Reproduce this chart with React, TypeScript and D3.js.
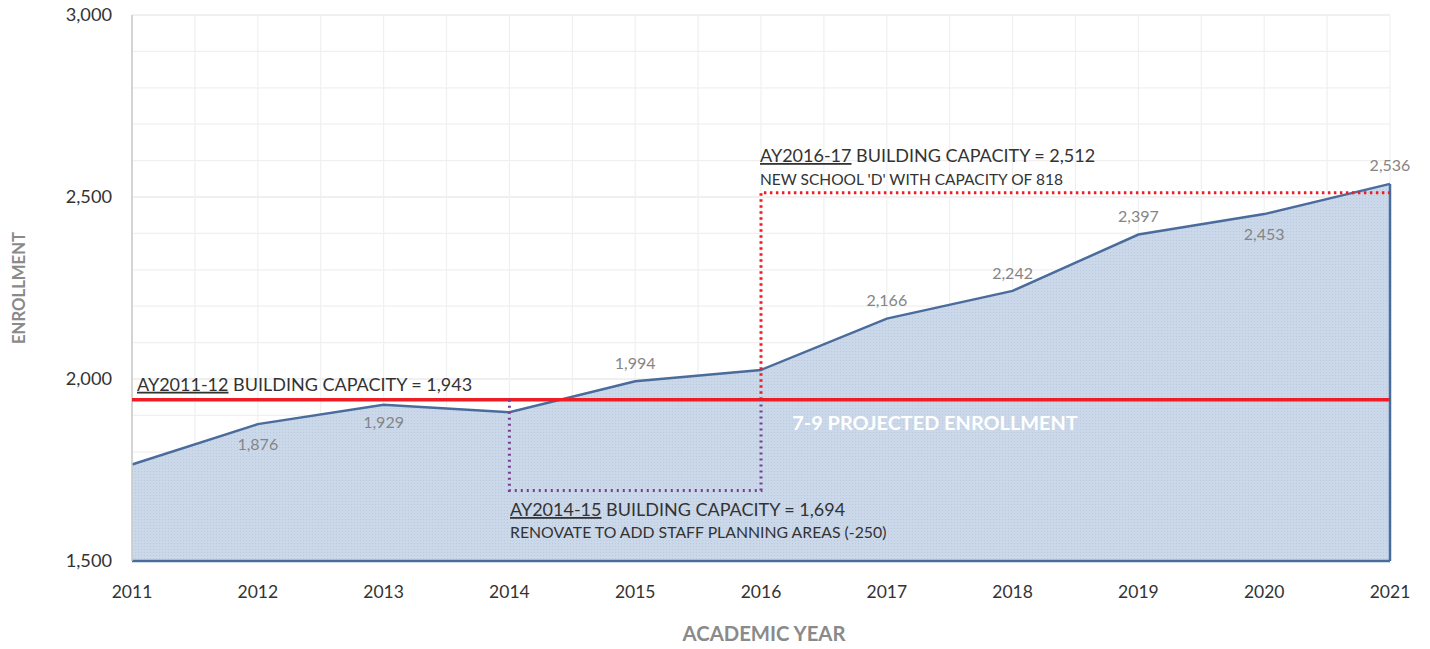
import React from "react";
import * as d3 from "d3";

const years = [2011, 2012, 2013, 2014, 2015, 2016, 2017, 2018, 2019, 2020, 2021];
const enrollment = [1765, 1876, 1929, 1909, 1994, 2025, 2166, 2242, 2397, 2453, 2536];
const labeled = [false, true, true, false, true, false, true, true, true, true, true];
const labelOffsets = [0, 20, 18, 0, -18, 0, -18, -18, -18, 20, -18];
const yTicks = [1500, 2000, 2500, 3000];
const capacity2011 = 1943;
const capacity2014 = 1694;
const capacity2016 = 2512;

const W = 1430, H = 649;
const left = 132, right = 1390, top = 15, bottom = 561;
const FONT = "Lato, 'Open Sans', sans-serif";

export default function App() {
  const x = d3.scaleLinear().domain([2011, 2021]).range([left, right]);
  const y = d3.scaleLinear().domain([1500, 3000]).range([bottom, top]);
  const pts = years.map((yr, i) => [yr, enrollment[i]] as [number, number]);
  const area = d3.area<[number, number]>().x(d => x(d[0])).y0(y(1500)).y1(d => y(d[1]))(pts) || "";
  const line = d3.line<[number, number]>().x(d => x(d[0])).y(d => y(d[1]))(pts) || "";
  const minor = d3.range(1500, 3001, 100);
  const halfYears = d3.range(2011, 2021.01, 0.5);
  const fmt = d3.format(",");

  return (
    <svg width={W} height={H} style={{ position: "absolute", left: 0, top: 0, background: "#fff" }}>
      <defs>
        <pattern id="dots" width="3" height="3" patternUnits="userSpaceOnUse">
          <rect width="3" height="3" fill="#cbd8ea" />
          <rect width="1" height="1" fill="#b9c9de" />
        </pattern>
      </defs>
      {minor.map(v => (
        <line key={"h" + v} x1={left} x2={right} y1={y(v)} y2={y(v)} stroke={v % 500 === 0 ? "#e2e2e2" : "#f0f0f0"} strokeWidth={1.2} />
      ))}
      {halfYears.map(v => (
        <line key={"v" + v} x1={x(v)} x2={x(v)} y1={top} y2={bottom} stroke="#f0f0f0" strokeWidth={1.2} />
      ))}
      <path d={area} fill="url(#dots)" />
      <path d={line} fill="none" stroke="#4a6c9c" strokeWidth={2.5} />
      <line x1={x(2021)} x2={x(2021)} y1={y(enrollment[10])} y2={bottom} stroke="#4a6c9c" strokeWidth={2.5} />
      <line x1={left} x2={right} y1={bottom} y2={bottom} stroke="#4a6c9c" strokeWidth={2.5} />
      <line x1={left} x2={left} y1={top} y2={bottom} stroke="#c8c8c8" strokeWidth={1.5} />

      {/* capacity lines */}
      <line x1={left} x2={right} y1={y(capacity2011)} y2={y(capacity2011)} stroke="#ee1c24" strokeWidth={3.5} />
      <path d={`M${x(2014)},${y(capacity2011)}V${y(capacity2014)}H${x(2016)}V${y(capacity2011)}`} fill="none" stroke="#7a3f8f" strokeWidth={3} strokeDasharray="2 4" />
      <path d={`M${x(2016)},${y(capacity2011)}V${y(capacity2016)}H${right}`} fill="none" stroke="#ee1c24" strokeWidth={3} strokeDasharray="2.5 3.5" />

      {/* axes labels */}
      {yTicks.map(v => (
        <text key={"yt" + v} x={112} y={y(v)} dy="0.35em" textAnchor="end" fontFamily={FONT} fontSize={18.2} fill="#333">{fmt(v)}</text>
      ))}
      {years.map(v => (
        <text key={"xt" + v} x={x(v)} y={592} dy="0.35em" textAnchor="middle" fontFamily={FONT} fontSize={17.5} fill="#333">{v}</text>
      ))}
      <text x={x(2016) + 3} y={634} dy="0.35em" textAnchor="middle" fontFamily={FONT} fontSize={20.3} fontWeight="bold" fill="#8a8a8a">ACADEMIC YEAR</text>
      <text transform={`translate(19,288) rotate(-90)`} dy="0.35em" textAnchor="middle" fontFamily={FONT} fontSize={16.7} fontWeight="bold" fill="#8a8a8a">ENROLLMENT</text>

      {/* data labels */}
      {years.map((v, i) => labeled[i] ? (
        <text key={"dl" + v} x={x(v)} y={y(enrollment[i]) + labelOffsets[i]} dy="0.35em" textAnchor="middle" fontFamily={FONT} fontSize={16} fill="#858585">{fmt(enrollment[i])}</text>
      ) : null)}

      {/* annotations */}
      <text x={137} y={y(capacity2011) - 9} fontFamily={FONT} fontSize={18} fill="#333">
        <tspan textDecoration="underline">AY2011-12</tspan> BUILDING CAPACITY = {fmt(capacity2011)}
      </text>
      <text x={935} y={423} dy="0.35em" textAnchor="middle" fontFamily={FONT} fontSize={19.9} fontWeight="bold" fill="#ffffff">7-9 PROJECTED ENROLLMENT</text>
      <text x={510} y={516} fontFamily={FONT} fontSize={18} fill="#333">
        <tspan textDecoration="underline">AY2014-15</tspan> BUILDING CAPACITY = {fmt(capacity2014)}
      </text>
      <text x={510} y={538} fontFamily={FONT} fontSize={15.8} fill="#333">RENOVATE TO ADD STAFF PLANNING AREAS (-250)</text>
      <text x={760} y={162} fontFamily={FONT} fontSize={18} fill="#333">
        <tspan textDecoration="underline">AY2016-17</tspan> BUILDING CAPACITY = {fmt(capacity2016)}
      </text>
      <text x={760} y={185} fontFamily={FONT} fontSize={15.5} fill="#333">NEW SCHOOL 'D' WITH CAPACITY OF 818</text>
    </svg>
  );
}
